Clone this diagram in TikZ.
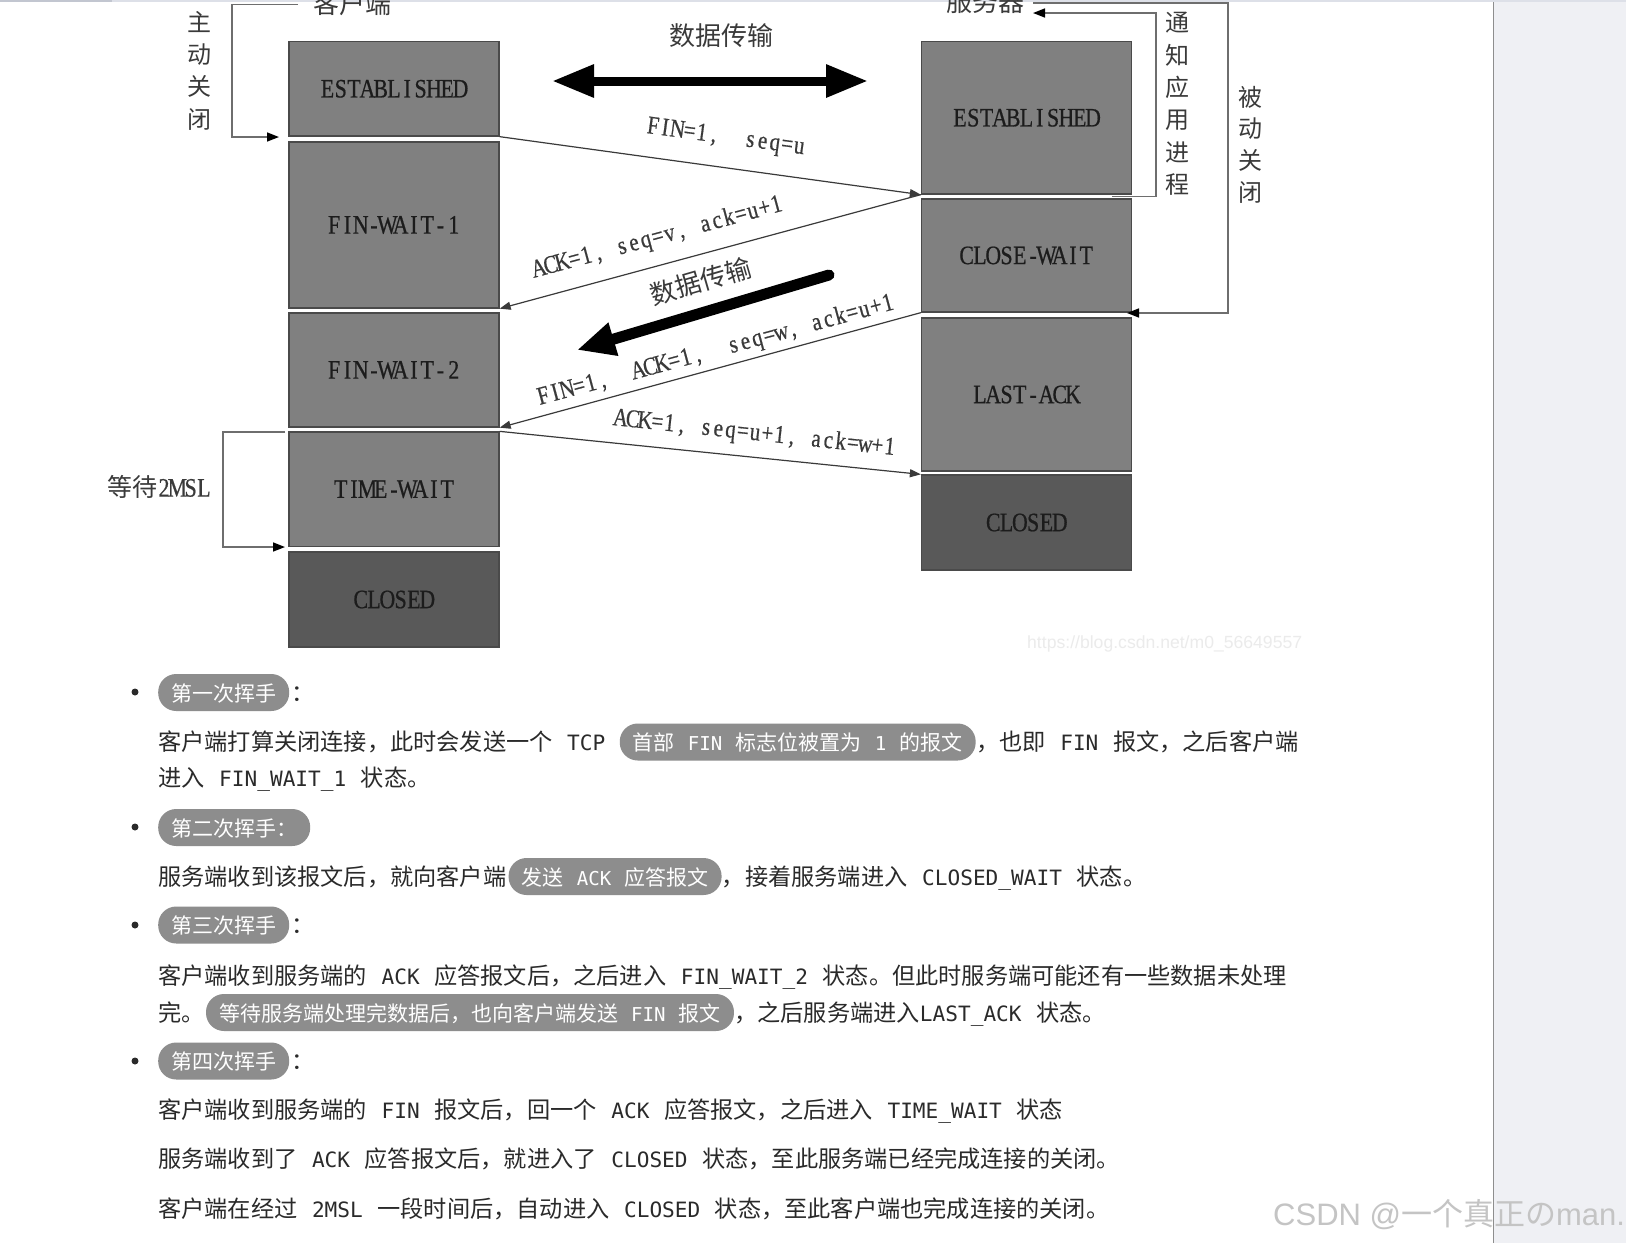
\documentclass[tikz,border=0pt]{standalone}
\usepackage{fontspec}
\usetikzlibrary{arrows.meta}
\setmainfont{Noto Sans CJK SC}
\setmonofont[Scale=0.91]{DejaVu Sans Mono}
\newfontfamily\cjk{Noto Sans CJK SC}
\newfontfamily\dserif[FakeStretch=0.82,FakeBold=0.6]{Liberation Serif}
\newfontfamily\lsans{Liberation Sans}
\ExplSyntaxOn
\cs_new:Npn \cellrow #1 #2 { \tl_map_inline:nn {#2} { \makebox[#1][c]{##1} } }
\ExplSyntaxOff
\newcommand\dgBoxFont{\dserif\fontsize{26.6}{30}\selectfont}
\newcommand\dgLabFont{\dserif\fontsize{25.5}{28}\selectfont}
\newcommand\dgBodyFont{\fontsize{23.2}{28}\selectfont}
\newcommand\dgPillFont{\fontsize{21}{25}\selectfont}
\newcommand\mn[1]{\hspace{0.63em}\texttt{#1}\hspace{0.63em}}
\newcommand\mr[1]{\texttt{#1}\hspace{0.63em}}
\definecolor{boxgray}{HTML}{808080}
\definecolor{closedgray}{HTML}{595959}
\definecolor{boxline}{HTML}{4A4A4A}
\definecolor{boxtext}{HTML}{1C1C1C}
\definecolor{labtext}{HTML}{3A3A3A}
\definecolor{msgline}{HTML}{3A3A3A}
\definecolor{brkline}{HTML}{6E6E6E}
\definecolor{bodytext}{HTML}{2A2A2A}
\definecolor{pillgray}{HTML}{8D8D8D}
\definecolor{panel}{HTML}{EFF0F4}
\definecolor{panelline}{HTML}{8E8E8E}
\definecolor{topline}{HTML}{DDE0E8}
\definecolor{toptab}{HTML}{C2C6D0}
\definecolor{wmone}{HTML}{EBEBEB}
\definecolor{wmtwo}{HTML}{C4C4C4}
\begin{document}
\begin{tikzpicture}[x=1pt,y=-1pt,
  stbox/.style={draw=boxline, line width=1.3pt, fill=boxgray, minimum width=210pt, inner sep=0pt, font=\dgBoxFont, text=boxtext},
  closedbox/.style={stbox, fill=closedgray},
  msg/.style={draw=msgline, line width=1.2pt, -{Triangle[length=11pt,width=8pt]}},
  brk/.style={draw=brkline, line width=1.6pt, -{Triangle[length=12pt,width=9pt,fill=black,color=black]}},
  lab/.style={font=\dgLabFont, text=labtext, inner sep=0pt},
  cjklab/.style={font=\cjk\fontsize{26}{30}\selectfont, text=labtext, inner sep=0pt},
  vlab/.style={font=\cjk\fontsize{24}{32.3}\selectfont, text=labtext, align=center, inner sep=0pt},
  body/.style={font=\dgBodyFont, text=bodytext, inner sep=0pt, anchor=base west},
  pill/.style={fill=pillgray, text=white, font=\dgPillFont, rounded corners=18pt, inner xsep=13pt, inner ysep=0pt, text height=19pt, text depth=2pt, minimum height=37pt, anchor=base west},
  bul/.style={circle, fill=bodytext, inner sep=0pt, minimum size=7pt}
]
\useasboundingbox (0,0) rectangle (1626,1243);
\fill[white] (0,0) rectangle (1626,1243);
% page chrome
\fill[panel] (1493,0) rectangle (1626,1243);
\draw[panelline, line width=1pt] (1493,0) -- (1493,1243);
\fill[topline] (0,0) rectangle (1626,1.6);
\fill[toptab] (0,0) rectangle (112,2);

% client boxes
\node[stbox, minimum height=94.5pt] (cEst) at (394,88.75) {\cellrow{13.3pt}{ESTABLISHED}};
\node[stbox, minimum height=166pt] (cFW1) at (394,225) {\cellrow{13.3pt}{FIN-WAIT-1}};
\node[stbox, minimum height=114pt] (cFW2) at (394,370) {\cellrow{13.3pt}{FIN-WAIT-2}};
\node[stbox, minimum height=114.5pt] (cTW) at (394,489.25) {\cellrow{13.3pt}{TIME-WAIT}};
\node[closedbox, minimum height=95pt] (cCl) at (394,599.5) {\cellrow{13.3pt}{CLOSED}};
% server boxes
\node[stbox, minimum height=152.5pt] (sEst) at (1026.5,117.75) {\cellrow{13.3pt}{ESTABLISHED}};
\node[stbox, minimum height=113pt] (sCW) at (1026.5,255.5) {\cellrow{13.3pt}{CLOSE-WAIT}};
\node[stbox, minimum height=153pt] (sLA) at (1026.5,394.5) {\cellrow{13.3pt}{LAST-ACK}};
\node[closedbox, minimum height=95pt] (sCl) at (1026.5,522.5) {\cellrow{13.3pt}{CLOSED}};

% top labels
\node[anchor=base, font=\cjk\fontsize{26}{30}\selectfont, text=labtext, inner sep=0pt] (cliLab) at (352,13) {客户端};
\node[anchor=base, font=\cjk\fontsize{26}{30}\selectfont, text=labtext, inner sep=0pt] (srvLab) at (985,11) {服务器};
\node[vlab] (zdgb) at (199,70.5) {主\\动\\关\\闭};
\node[vlab, font=\cjk\fontsize{24}{32.4}\selectfont] (tzyy) at (1177,104) {通\\知\\应\\用\\进\\程};
\node[vlab, font=\cjk\fontsize{24}{31.7}\selectfont] (bdgb) at (1250,144.5) {被\\动\\关\\闭};
\node[font=\dserif\fontsize{26.6}{30}\selectfont, text=labtext, inner sep=0pt] (wait) at (159,487) {{\cjk\fontsize{25}{30}\selectfont 等待}\cellrow{13.3pt}{2MSL}};

% brackets
\coordinate (k1s) at (298,4.5); \coordinate (k1e) at (279,137);
\draw[brk] (k1s) -- (232,4.5) |- (k1e);
\coordinate (k2s) at (285,432); \coordinate (k2e) at (285,547);
\draw[brk] (k2s) -- (223,432) |- (k2e);
\coordinate (k3s) at (1112,196.5); \coordinate (k3e) at (1033,13);
\draw[brk] (k3s) -- (1156,196.5) |- (k3e);
\coordinate (k4s) at (1033,3); \coordinate (k4e) at (1127,313);
\draw[brk] (k4s) -- (1228,3) |- (k4e);

% data transfer arrows
\node[cjklab] (lb0) at (721,36) {数据传输};
\coordinate (da1) at (552,81); \coordinate (da2) at (868,81);
\draw[black, line width=9pt, {Triangle[length=42pt,width=31pt]}-{Triangle[length=42pt,width=31pt]}] (da1) -- (da2);
\coordinate (db1) at (829,275); \coordinate (db2) at (577,350);
\draw[black, line width=11pt, line cap=round, -{Triangle[length=38pt,width=32pt]}] (db1) -- (db2);
\node[cjklab, rotate=16.2] (lb3) at (701,281) {数据传输};

% messages
\draw[msg] (cEst.south east) -- (sEst.south west);
\draw[msg] (sEst.south west) -- (cFW1.south east);
\draw[msg] (sCW.south west) -- (cFW2.south east);
\draw[msg] (cTW.north east) -- (sCl.north west);
\node[lab, rotate=-7.7] (lb1) at (726,138) {\cellrow{12.3pt}{FIN=1,~~seq=u}};
\node[lab, rotate=15.1] (lb2) at (658,238) {\cellrow{12.3pt}{ACK=1,~seq=v,~ack=u+1}};
\node[lab, rotate=15.1] (lb4) at (716,351) {\cellrow{12.3pt}{FIN=1,~~ACK=1,~~seq=w,~ack=u+1}};
\node[lab, rotate=-6.1] (lb5) at (755,434) {\cellrow{12.3pt}{ACK=1,~seq=u+1,~ack=w+1}};

% watermarks
\node[anchor=west, font=\lsans\fontsize{17.6}{20}\selectfont, text=wmone, inner sep=0pt] (wmurl) at (1027,644) {https://blog.csdn.net/m0\_56649557};

% text below
\node[bul] (d1) at (135,692) {};
\node[pill] (p1) at (158,701) {第一次挥手};
\node[body] (c1) at ([xshift=2pt]p1.base east) {：};
\node[body] (l1a) at (158,750.5) {客户端打算关闭连接，此时会发送一个\mn{TCP}};
\node[pill] (l1p) at ([xshift=14pt]l1a.base east) {首部\mn{FIN}标志位被置为\mn{1}的报文};
\node[body] (l1b) at (l1p.base east) {，也即\mn{FIN}报文，之后客户端};
\node[body] (l2) at (158,786.7) {进入\mn{FIN\_WAIT\_1}状态。};

\node[bul] (d2) at (135,827) {};
\node[pill] (p2) at (158,836) {第二次挥手：};
\node[body] (l3a) at (158,885) {服务端收到该报文后，就向客户端};
\node[pill] (l3p) at ([xshift=2pt]l3a.base east) {发送\mn{ACK}应答报文};
\node[body] (l3b) at (l3p.base east) {，接着服务端进入\mn{CLOSED\_WAIT}状态。};

\node[bul] (d3) at (135,925) {};
\node[pill] (p3) at (158,933.5) {第三次挥手};
\node[body] (c3) at ([xshift=2pt]p3.base east) {：};
\node[body] (l4) at (158,984) {客户端收到服务端的\mn{ACK}应答报文后，之后进入\mn{FIN\_WAIT\_2}状态。但此时服务端可能还有一些数据未处理};
\node[body] (l5a) at (158,1021) {完。};
\node[pill] (l5p) at ([xshift=1pt]l5a.base east) {等待服务端处理完数据后，也向客户端发送\mn{FIN}报文};
\node[body] (l5b) at (l5p.base east) {，之后服务端进入\mr{LAST\_ACK}状态。};

\node[bul] (d4) at (135,1061) {};
\node[pill] (p4) at (158,1069.5) {第四次挥手};
\node[body] (c4) at ([xshift=2pt]p4.base east) {：};
\node[body] (l6) at (158,1118.6) {客户端收到服务端的\mn{FIN}报文后，回一个\mn{ACK}应答报文，之后进入\mn{TIME\_WAIT}状态};
\node[body] (l7) at (158,1167) {服务端收到了\mn{ACK}应答报文后，就进入了\mn{CLOSED}状态，至此服务端已经完成连接的关闭。};
\node[body] (l8) at (158,1217) {客户端在经过\mn{2MSL}一段时间后，自动进入\mn{CLOSED}状态，至此客户端也完成连接的关闭。};

\node[anchor=west, font=\lsans\fontsize{31}{36}\selectfont, text=wmtwo, inner sep=0pt] (wmcsdn) at (1273,1215) {CSDN @{\cjk 一个真正の}man.};
\end{tikzpicture}
\end{document}
